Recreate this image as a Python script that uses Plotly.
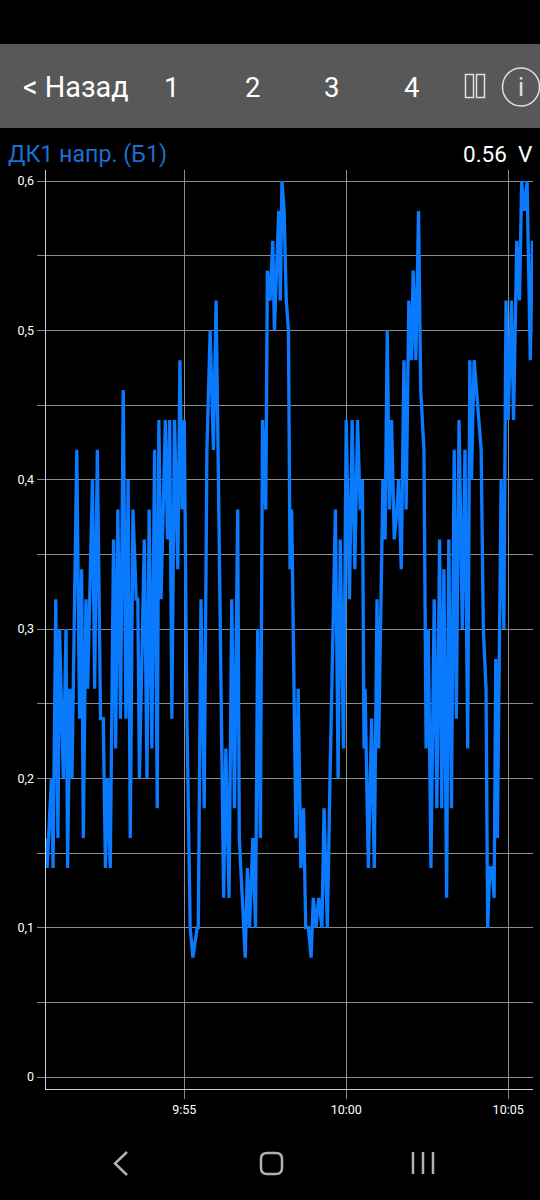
import plotly.graph_objects as go
from datetime import datetime, timedelta

# seconds after 9:50:00
seconds = [45,46,54,57,62,66,69,76,81,84,88,92,101,106,110,113,118,121,130,134,139,145,150,154,158,163,169,173,177,182,187,192,196,200,205,211,214,217,226,231,235,240,245,250,253,257,265,269,273,277,282,288,292,296,300,305,311,316,324,326,331,337,342,348,354,359,364,373,377,383,388,393,399,402,413,417,421,427,432,436,441,445,451,454,459,464,467,475,478,481,485,489,493,496,499,507,511,516,521,525,530,535,539,544,549,555,559,565,570,580,585,589,595,600,606,611,616,621,626,630,633,635,641,647,652,657,660,668,672,676,680,684,689,694,697,702,707,711,716,721,724,729,734,738,744,748,752,757,763,768,773,777,781,786,790,795,800,804,809,815,820,825,829,832,837,845,850,854,859,862,866,870,874,877,880,887,892,896,900,906,910,916,921,925,930,935,941,945]
volts = [.16,.14,.20,.14,.32,.16,.30,.20,.30,.14,.26,.20,.42,.24,.34,.16,.32,.26,.40,.26,.42,.24,.24,.14,.20,.14,.36,.22,.38,.24,.46,.24,.40,.16,.38,.32,.32,.20,.36,.20,.38,.22,.42,.18,.44,.32,.44,.36,.44,.24,.44,.34,.48,.38,.44,.24,.10,.08,.10,.10,.32,.18,.42,.50,.42,.52,.38,.12,.22,.12,.32,.18,.38,.16,.08,.14,.10,.16,.10,.30,.16,.44,.38,.54,.52,.56,.50,.58,.52,.60,.58,.52,.50,.34,.38,.16,.26,.14,.18,.10,.10,.08,.12,.10,.12,.10,.18,.10,.20,.38,.20,.36,.22,.44,.32,.44,.34,.44,.38,.40,.22,.26,.14,.24,.14,.32,.22,.40,.36,.50,.38,.44,.36,.38,.40,.34,.48,.38,.52,.48,.54,.48,.58,.46,.42,.22,.30,.14,.32,.18,.36,.18,.34,.12,.36,.18,.42,.24,.44,.30,.42,.22,.48,.40,.48,.44,.42,.30,.26,.10,.14,.14,.12,.28,.16,.40,.30,.52,.44,.52,.44,.56,.52,.60,.58,.60,.48,.56]
y_ticks = [0,.05,.1,.15,.2,.25,.3,.35,.4,.45,.5,.55,.6]
y_labels = ["0","","0,1","","0,2","","0,3","","0,4","","0,5","","0,6"]
x_ticks = ["2024-01-01 09:55:00","2024-01-01 10:00:00","2024-01-01 10:05:00"]
x_labels = ["9:55","10:00","10:05"]
title = "ДК1 напр. (Б1)"
reading = "0.56  V"
tabs = ["1","2","3","4"]

W, H = 540, 1200
X = lambda p: p / W
Y = lambda p: 1 - p / H
t0 = datetime(2024, 1, 1, 9, 50)
times = [t0 + timedelta(seconds=s) for s in seconds]

fig = go.Figure(go.Scatter(x=times, y=volts, mode="lines",
                           line=dict(color="#0a7bff", width=3.3, shape="linear"),
                           hoverinfo="skip", showlegend=False))
GRID = "#8c8c8c"
AX = "#d0d0d0"
FONT = "Roboto"
fig.update_layout(
    width=W, height=H, margin=dict(l=0, r=0, t=0, b=0),
    paper_bgcolor="#000000", plot_bgcolor="#000000",
    font=dict(family=FONT, color="#ffffff", size=12),
    xaxis=dict(domain=[X(45.5), X(533)], anchor="y", type="date",
               range=[t0 + timedelta(seconds=43), t0 + timedelta(seconds=946)],
               tickvals=x_ticks, ticktext=x_labels, showgrid=True, gridcolor=GRID, gridwidth=1,
               ticks="outside", ticklen=9, tickcolor=GRID, tickwidth=1,
               showline=True, linecolor=AX, linewidth=1, zeroline=False,
               tickfont=dict(size=12.5, color="#ffffff", family=FONT)),
    yaxis=dict(domain=[Y(1089), Y(170)], anchor="x",
               range=[-0.0080, 0.6074],
               tickvals=y_ticks, ticktext=y_labels, showgrid=True, gridcolor=GRID, gridwidth=1,
               ticks="outside", ticklen=8, tickcolor=GRID, tickwidth=1,
               showline=True, linecolor=AX, linewidth=1, zeroline=False,
               tickfont=dict(size=12.5, color="#ffffff", family=FONT)),
)

def txt(s, x, y, size, color="#ffffff", anchor="left"):
    fig.add_annotation(text=s, x=X(x), y=Y(y), xref="paper", yref="paper", showarrow=False,
                       xanchor=anchor, yanchor="middle", align=anchor, borderpad=0, borderwidth=0,
                       font=dict(size=size, color=color, family=FONT))

def rect(x0, y0, x1, y1, fill=None, line=None, w=1, kind="rect"):
    fig.add_shape(type=kind, xref="paper", yref="paper", x0=X(x0), x1=X(x1), y0=Y(y0), y1=Y(y1),
                  fillcolor=fill, line=dict(color=line, width=w) if line else dict(width=0), layer="above")

def path(points, color="#b0b0b0", w=2.5):
    d = "M" + " L".join(f"{X(a):.5f},{Y(b):.5f}" for a, b in points)
    fig.add_shape(type="path", path=d, xref="paper", yref="paper", line=dict(color=color, width=w))

# top bar
rect(0, 44, 540, 128, fill="#585858")
txt("< Назад", 23, 87, 28.8)
for s, cx in zip(tabs, [171, 252, 331, 411]):
    txt(s, cx, 87, 27.5, anchor="center")
rect(465.5, 74.5, 473.5, 97.5, line="#e0e0e0", w=1.5)
rect(476.5, 74.5, 484.5, 97.5, line="#e0e0e0", w=1.5)
rect(502.5, 68, 539.5, 106, line="#e0e0e0", w=1.5, kind="circle")
txt("i", 521, 87, 25, color="#e0e0e0", anchor="center")

# header
txt(title, 8, 153.5, 23.2, color="#1a6fd6")
txt(reading, 533, 153.5, 22.5, anchor="right")

# navigation bar
path([(127, 1152), (115, 1163.5), (127, 1175)])
fig.add_shape(type="path", xref="paper", yref="paper", line=dict(color="#b0b0b0", width=2.5),
              path="M%.5f,%.5f L%.5f,%.5f Q%.5f,%.5f %.5f,%.5f L%.5f,%.5f Q%.5f,%.5f %.5f,%.5f L%.5f,%.5f Q%.5f,%.5f %.5f,%.5f L%.5f,%.5f Q%.5f,%.5f %.5f,%.5f Z" % (
                  X(267), Y(1153), X(276), Y(1153), X(282), Y(1153), X(282), Y(1159),
                  X(282), Y(1168), X(282), Y(1174), X(276), Y(1174),
                  X(267), Y(1174), X(261), Y(1174), X(261), Y(1168),
                  X(261), Y(1159), X(261), Y(1153), X(267), Y(1153)))
for bx in (413, 423, 433):
    path([(bx, 1152), (bx, 1174)])

fig.write_html("out.html", config={"displayModeBar": False},
               post_script="document.body.style.margin='0';document.body.style.background='#000';")
